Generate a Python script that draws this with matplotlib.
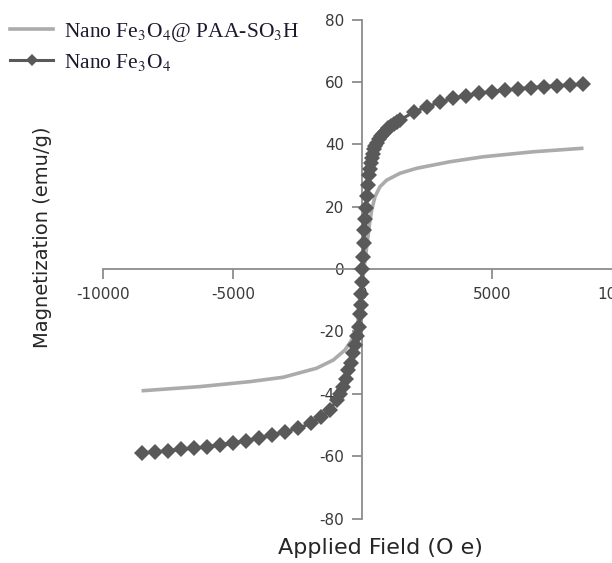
import matplotlib
matplotlib.use('Agg')
import matplotlib.pyplot as plt

plt.rcParams['mathtext.fontset'] = 'stix'
plt.rcParams['axes.unicode_minus'] = False

# Nano Fe3O4@PAA-SO3H (plain grey line)
h_paa = [-8460, -6270, -4340, -3060, -1770, -1130, -680, -420, -224, -120, 0,
         100, 200, 280, 355, 483, 676, 934, 1448, 2092, 3378, 4665, 6595, 8463]
m_paa = [-39.0, -37.7, -36.1, -34.7, -31.8, -29.2, -26.0, -22.8, -19.6, -13.0, -4.0,
         3.0, 9.5, 15.0, 18.9, 23.2, 26.4, 28.5, 30.7, 32.3, 34.4, 36.0, 37.6, 38.7]

# Nano Fe3O4 (diamond markers)
h_fe = [-8500, -8000, -7500, -7000, -6500, -6000, -5500, -5000, -4500, -4000,
        -3500, -3000, -2500, -2000, -1600, -1250, -1000, -850, -750, -650, -550,
        -450, -350, -275, -200, -150, -100, -75, -50, -25, 0, 25, 50, 75, 100,
        130, 165, 200, 240, 275, 310, 350, 400, 450, 500, 550, 625, 700, 775, 850,
        1000, 1100, 1200, 1320, 1450, 2000, 2500, 3000, 3500, 4000, 4500, 5000,
        5500, 6000, 6500, 7000, 7500, 8000, 8500]
m_fe = [-58.9, -58.6, -58.3, -57.8, -57.5, -57.0, -56.4, -55.9, -55.0, -54.3,
        -53.2, -52.2, -51.1, -49.5, -47.5, -45.2, -42.0, -40.0, -37.7, -35.2, -32.4,
        -30.0, -27.0, -24.5, -21.5, -18.5, -14.5, -11.5, -8.0, -4.0, 0.0, 4.0, 8.5, 12.5, 16.0,
        19.5, 23.5, 27.0, 30.0, 32.0, 34.0, 35.5, 37.0, 38.5, 39.5, 40.5, 41.6, 42.5, 43.3, 44.0,
        45.2, 45.9, 46.5, 47.1, 47.8, 50.4, 52.1, 53.5, 54.7, 55.6, 56.3, 56.9,
        57.4, 57.8, 58.2, 58.5, 58.8, 59.0, 59.2]

x_ticks = [-10000, -5000, 0, 5000, 10000]
y_ticks = [-80, -60, -40, -20, 0, 20, 40, 60, 80]

axis_col = '#8c8c8c'
label_col = '#3a3a3a'

fig = plt.figure(figsize=(6.12, 5.63), dpi=100)
ax = fig.add_axes([0.1691, 0.0790, 0.8464, 0.8863])

ax.plot(h_paa, m_paa, color='#ababab', lw=2.6, zorder=3,
        label='Nano Fe$_3$O$_4$@ PAA-SO$_3$H')
ax.plot(h_fe, m_fe, color='#595959', lw=2.2, marker='D', ms=8,
        markeredgewidth=0, zorder=4, clip_on=False, label='Nano Fe$_3$O$_4$')

ax.set_xlim(-10000, 10000)
ax.set_ylim(-80, 80)
ax.set_xticks(x_ticks)
ax.set_yticks(y_ticks)

ax.spines['left'].set_position(('data', 0))
ax.spines['bottom'].set_position(('data', 0))
ax.spines['right'].set_visible(False)
ax.spines['top'].set_visible(False)
for s in ('left', 'bottom'):
    ax.spines[s].set_color(axis_col)
    ax.spines[s].set_linewidth(1.3)

ax.tick_params(axis='both', direction='out', length=7, width=1.3, color=axis_col,
               labelcolor=label_col, labelsize=11, pad=6)

fig.text(0.621, 0.027, 'Applied Field (O e)', ha='center', va='center',
         fontsize=16, color='#262626')
fig.text(0.069, 0.579, 'Magnetization (emu/g)', ha='center', va='center',
         rotation=90, fontsize=14, color='#262626')

fig.legend(loc='upper left', bbox_to_anchor=(10 / 612, 1 - 21 / 563), frameon=False,
           prop={'family': 'Liberation Serif', 'size': 15.5},
           handlelength=2.0, handletextpad=0.5, labelspacing=0.35,
           borderpad=0, borderaxespad=0, markerscale=0.75, labelcolor='#1a1a2e')

fig.savefig('out.png', dpi=100)
